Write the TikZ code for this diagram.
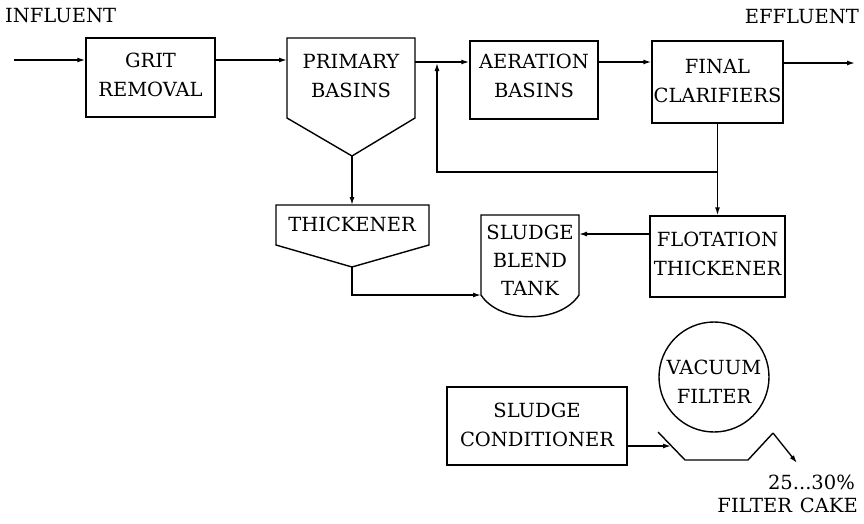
\documentclass[tikz,border=0pt]{standalone}
\usepackage{fontspec}
\setmainfont{DejaVu Serif}
\usetikzlibrary{arrows.meta}
\begin{document}
\begin{tikzpicture}[x=1pt,y=-1pt,
  ln/.style={line width=1.4pt, line join=miter},
  box/.style={draw, line width=1.4pt, inner sep=0pt},
  lbl/.style={font=\fontsize{19.5}{29}\selectfont, align=center, inner sep=0pt},
  arr/.style={ln, -{Latex[length=8pt,width=5pt]}}]
\useasboundingbox (0,0) rectangle (864,523);

% ---- outlines ----
\node[box, minimum width=129pt, minimum height=79pt] (grit) at (150.5,77.5) {};
\node[box, minimum width=128pt, minimum height=78pt] (aer) at (534,80) {};
\node[box, minimum width=131pt, minimum height=82pt] (fin) at (717.5,82) {};
\node[box, minimum width=135pt, minimum height=81pt] (flot) at (717.5,256.5) {};
\node[box, minimum width=180pt, minimum height=78pt] (cond) at (537,426) {};
\node[draw, circle, line width=1.4pt, minimum size=110pt, inner sep=0pt] (vac) at (714,377) {};

% primary basins
\draw[ln] (287,38) -- (415,38) -- (415,118) -- (352,156) -- (287,118) -- cycle;
\coordinate (primW) at (287,60);
\coordinate (primE) at (415,62);
\coordinate (primA) at (352,156);
% thickener
\draw[ln] (276,205) -- (429,205) -- (429,245) -- (352,267) -- (276,245) -- cycle;
\coordinate (thkT) at (352,205);
\coordinate (thkA) at (352,267);
% sludge blend tank
\draw[ln] (481,215) -- (579,215) -- (579,295) .. controls (560,324) and (500,324) .. (481,295) -- cycle;
\coordinate (blendE) at (579,234);
\coordinate (blendW) at (481,295);
% filter trough
\draw[ln] (658,432) -- (685,460) -- (748,460) -- (773,433);
\coordinate (trL) at (671,446);
\coordinate (trR) at (773,433);

% ---- texts ----
\node[lbl, anchor=west] (infl) at (5,16) {INFLUENT};
\node[lbl, anchor=east] (effl) at (859,17) {EFFLUENT};
\node[lbl] (tgrit) at (150.5,75) {GRIT\\REMOVAL};
\node[lbl] (tprim) at (351,76) {PRIMARY\\BASINS};
\node[lbl] (taer) at (534,75.5) {AERATION\\BASINS};
\node[lbl] (tfin) at (717.5,81.5) {FINAL\\CLARIFIERS};
\node[lbl] (tthk) at (352,224) {THICKENER};
\node[lbl, font=\fontsize{19.5}{28}\selectfont] (tblend) at (530,260) {SLUDGE\\BLEND\\TANK};
\node[lbl] (tflot) at (717.5,253.5) {FLOTATION\\THICKENER};
\node[lbl] (tcond) at (537,425) {SLUDGE\\CONDITIONER};
\node[lbl] (tvac) at (714,381.5) {VACUUM\\FILTER};
\node[lbl, anchor=east] (pct) at (855,482) {25...30\%};
\node[lbl, anchor=east] (cake) at (858,505) {FILTER\hspace{8pt}CAKE};

% ---- connectors ----
\coordinate (inS) at (14,60);
\coordinate (effE) at (855,63);
\coordinate (junc) at (717.5,172);
\coordinate (rec) at (437,63);
\coordinate (cakeE) at (797,463);

\draw[arr] (inS) -- (grit.west |- inS);
\draw[arr] (grit.east |- primW) -- (primW);
\draw[arr] (primE) -- (aer.west |- primE);
\draw[arr] (aer.east |- primE) -- (fin.west |- primE);
\draw[arr] (fin.east |- effE) -- (effE);
\draw[arr] (fin.south) -- (flot.north);
\draw[arr] (junc) -| (rec);
\draw[arr] (primA) -- (thkT);
\draw[arr] (thkA) |- (blendW);
\draw[arr] (flot.west |- blendE) -- (blendE);
\draw[arr] (cond.east |- trL) -- (trL);
\draw[arr] (trR) -- (cakeE);
\end{tikzpicture}
\end{document}
